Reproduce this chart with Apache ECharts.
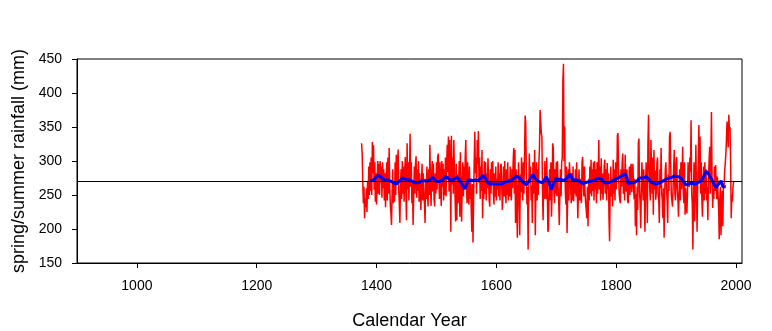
<!DOCTYPE html>
<html>
<head>
<meta charset="utf-8">
<script src="https://cdn.jsdelivr.net/npm/echarts@6/dist/echarts.min.js"></script>
<style>
html,body{margin:0;padding:0;background:#fff;}
#chart{width:772px;height:331px;}
</style>
</head>
<body>
<div id="chart"></div>
<script>
// ---- data ----
var redStartYear = 1375;
var redValues = [
326,312,268,238,262,216,245,232,260,225,
270,244,292,250,298,256,305,250,328,282,
323,258,298,240,282,236,272,300,252,296,
250,300,268,292,246,298,260,288,242,282,
232,270,298,242,305,252,319,262,236,223,
206,256,288,238,270,240,298,250,309,268,
292,317,258,236,209,270,288,244,300,252,
292,240,282,306,250,213,326,258,298,242,
282,340,262,298,238,268,206,246,292,252,
296,307,246,288,256,300,240,282,252,228,
268,296,242,282,254,236,209,274,244,292,
258,233,288,250,324,268,234,280,300,255,
296,244,233,282,252,298,258,305,311,272,
244,298,260,234,300,262,296,242,288,250,
305,248,296,324,284,336,255,331,278,196,
337,266,305,252,331,284,248,211,296,213,
280,238,268,300,218,313,252,211,272,298,
248,292,258,305,331,268,238,298,250,236,
292,244,274,230,196,266,180,244,298,343,
282,305,252,331,296,344,268,305,244,292,
256,316,216,280,244,300,252,298,242,282,
260,304,272,242,233,288,252,298,266,300,
252,236,282,248,292,242,274,258,298,248,
282,242,292,296,262,228,252,292,248,300,
258,238,288,250,298,242,274,248,292,255,
242,288,260,298,319,252,316,209,288,242,
187,260,298,248,191,280,254,305,268,242,
298,252,305,367,356,284,236,262,170,250,
311,268,292,242,264,209,298,252,274,316,
191,260,298,242,288,250,298,321,375,376,
341,336,254,213,274,244,300,252,244,305,
262,196,200,260,288,242,298,218,252,326,
319,258,238,288,252,298,248,300,262,242,
206,256,288,248,298,305,417,443,300,351,
258,236,292,194,252,288,242,298,300,258,
238,282,242,292,241,274,252,288,248,298,
299,216,260,288,242,274,250,238,298,306,
268,248,292,254,238,228,216,262,204,274,
242,292,252,302,248,288,256,298,242,300,
258,288,238,298,252,280,331,258,292,242,
304,252,282,243,262,292,302,252,288,242,
297,258,282,216,182,258,292,248,274,233,
302,252,288,242,298,258,274,338,341,282,
252,242,238,288,262,298,311,252,288,242,
309,268,255,288,242,238,262,292,250,288,
296,254,280,296,258,244,274,204,252,191,
262,228,326,333,255,236,201,260,298,268,
242,288,252,196,262,298,268,209,324,368,
296,258,242,331,286,252,305,221,316,258,
286,243,255,298,305,250,244,209,288,260,
319,252,242,216,260,187,252,288,298,258,
244,209,280,256,336,343,296,250,248,233,
262,292,316,252,242,298,306,258,244,218,
252,288,242,298,258,274,321,254,238,298,
221,260,244,223,252,298,268,262,305,284,
360,252,238,170,260,298,211,250,324,258,
196,262,298,353,268,336,252,298,242,218,
260,292,242,298,252,288,242,262,213,274,
298,321,252,298,372,278,231,260,244,292,
256,294,258,244,277,252,230,185,244,262,
191,238,256,204,267,262,284,296,309,331,
358,340,320,368,345,350,300,216,250,240,
262,270
];
var blueYears = [1389,1392,1395,1399,1403,1405.5,1408,1412,1416,1420,1424,1428,1433,1436,1440,1444,1448,1452,1456,1460,1464,1468,1472,1476,1480,1485,1489,1493,1497,1501,1505,1509,1513,1517,1521,1525,1529,1533,1537,1541,1545,1547,1550,1553,1557,1561,1565,1569,1573,1578,1582,1586,1590,1595,1600,1605,1611,1615,1620,1625,1630,1634,1636,1640,1645,1650,1654,1658,1661,1665,1669,1673,1677,1680,1683,1687,1690,1692,1695,1700,1704,1708,1713,1718,1723,1727,1731,1736,1740,1744,1748,1752,1757,1761,1765,1769,1772,1776,1780,1783,1787,1790,1795,1799,1803,1807,1811,1815.5,1818,1820,1824,1828,1832,1836,1839,1842,1846,1850,1854,1858,1862,1866,1869,1873,1877,1881,1885,1889,1893,1897,1900,1904,1908,1912,1916.6,1920,1924,1928,1932,1936,1940,1944,1947,1950,1953,1956,1960,1964,1966.7,1970,1973,1975,1978,1981,1983];
var blueValues = [270.8,268.4,272,276,279,280.6,276,272,272,272,270,268,266,268,272,275,273,272,272,270,268,268,269,271,271,271,272,276,273,270,270,272,275,277,273,272,273,276,274,268,262,259,265,272,272,271,272,271,274,279,274,268,266,266,266,266,267,269,270,272,275,278,280,274,268,265,270,276,280,274,271,269,268,272,277,271,262,258,266,275,273,273,271,275,281,273,272,272,269,267,268,269,270,271,272,275,277,273,268,266,268,270,271,273,275,277,279,281,274,267,268,268,269,272,275,274,275,277,274,269,268,266,265,268,270,272,274,275,276,278,280,277,275,270,265,266,267,267,266,268,270,274,279,285,282,278,272,264,261,265,268,271,262,262,262];
var meanRainfall = 270;
var xTickValues = [1000,1200,1400,1600,1800,2000];

// ---- build ----
var redData = redValues.map(function(v,i){ return [redStartYear + i, v]; });
var blueData = blueYears.map(function(y,i){ return [y, blueValues[i]]; });

var FONT = '"Liberation Sans", Arial, sans-serif';
var chart = echarts.init(document.getElementById('chart'), null, {renderer:'canvas'});
chart.setOption({
  animation: false,
  backgroundColor: '#ffffff',
  grid: {left: 77, right: 30, top: 59, bottom: 68, outerBoundsMode: 'none', containLabel: false,
         show: true, borderColor: '#000', borderWidth: 1, backgroundColor: 'transparent'},
  xAxis: {
    type: 'value', min: 900, max: 2010,
    name: 'Calendar Year', nameLocation: 'middle', nameGap: 49,
    nameTextStyle: {fontFamily: FONT, fontSize: 18, color: '#000'},
    axisLine: {show: true, onZero: false, lineStyle: {color: '#000', width: 1}},
    axisTick: {show: true, inside: false, length: 5, customValues: xTickValues, lineStyle: {color: '#000'}},
    axisLabel: {customValues: xTickValues, margin: 16, fontFamily: FONT, fontSize: 14, color: '#000',
                formatter: function(v){ return String(v); }},
    splitLine: {show: false}
  },
  yAxis: {
    type: 'value', min: 150, max: 450, interval: 50,
    name: 'spring/summer rainfall (mm)', nameLocation: 'middle', nameGap: 46, nameRotate: 90,
    nameTextStyle: {fontFamily: FONT, fontSize: 18, color: '#000'},
    axisLine: {show: true, lineStyle: {color: '#000', width: 1}},
    axisTick: {show: true, inside: false, length: 5, lineStyle: {color: '#000'}},
    axisLabel: {margin: 15, fontFamily: FONT, fontSize: 14, color: '#000',
                formatter: function(v){ return String(v); }},
    splitLine: {show: false}
  },
  series: [
    {
      type: 'line', data: redData, showSymbol: false, symbol: 'none', z: 2,
      lineStyle: {color: '#ff0000', width: 1.5}, silent: true
    },
    {
      type: 'line', data: [], z: 3, silent: true,
      markLine: {silent: true, symbol: 'none', label: {show: false},
        lineStyle: {color: '#000', width: 1, type: 'solid'},
        data: [{yAxis: meanRainfall}]}
    },
    {
      type: 'line', data: blueData, showSymbol: false, symbol: 'none', z: 4,
      lineStyle: {color: '#0000ff', width: 3}, silent: true
    }
  ]
});
</script>
</body>
</html>
